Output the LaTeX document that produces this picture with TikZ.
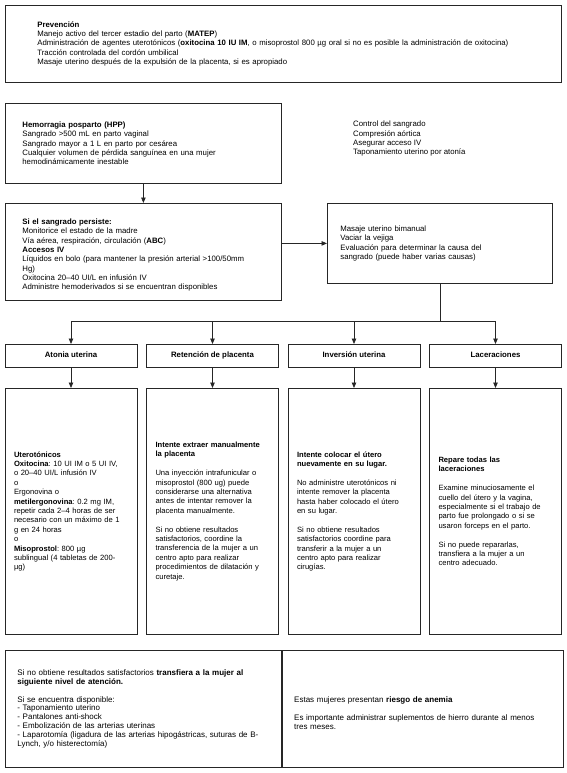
\documentclass[tikz,border=0pt]{standalone}
\usepackage{fontspec}
\setmainfont{Liberation Sans}
\usetikzlibrary{arrows.meta,positioning}
\newcommand{\boxfont}{\fontsize{7.8}{9.3}\selectfont\frenchspacing}
\newcommand{\detfont}{\fontsize{7.6}{9.4}\selectfont\frenchspacing}
\newcommand{\botfont}{\fontsize{8}{8.9}\selectfont\frenchspacing}

\begin{document}
\begin{tikzpicture}[x=1pt,y=-1pt,
  box/.style={draw=black!85,line width=0.8pt,anchor=north west,align=left,inner ysep=0pt,font=\boxfont},
  cat/.style={draw=black!85,line width=0.8pt,minimum width=132pt,minimum height=23pt,inner sep=0pt,outer sep=0pt,
    text height=5.8pt,text depth=1.7pt,font=\boxfont\bfseries},
  det/.style={box,minimum width=132pt,minimum height=246pt,inner xsep=9pt,text width=114pt,font=\detfont},
  arr/.style={-{Triangle[length=5.5pt,width=4.5pt]},line width=0.8pt,black!85},
  conn/.style={line width=0.8pt,black!85}]
\useasboundingbox (0,0) rectangle (567,773);
\node[box,minimum width=556pt,minimum height=77pt,inner xsep=32pt,text width=492pt] (prev) at (5,5)
  {\textbf{Prevención}\\
   Manejo activo del tercer estadio del parto (\textbf{MATEP})\\
   Administración de agentes uterotónicos (\textbf{oxitocina 10 IU IM}, o misoprostol 800 µg oral si no es posible la administración de oxitocina)\\
   Tracción controlada del cordón umbilical\\
   Masaje uterino después de la expulsión de la placenta, si es apropiado};
\node[box,minimum width=276pt,minimum height=80pt,inner xsep=17pt,text width=242pt] (hpp) at (5,103)
  {\textbf{Hemorragia posparto (HPP)}\\
   Sangrado >500 mL en parto vaginal\\
   Sangrado mayor a 1 L en parto por cesárea\\
   Cualquier volumen de pérdida sanguínea en una mujer\\
   hemodinámicamente inestable};
\node[anchor=north west,align=left,inner sep=0pt,font=\boxfont] (control) at (353,121)
  {Control del sangrado\\
   Compresión aórtica\\
   Asegurar acceso IV\\
   Taponamiento uterino por atonía};
\node[box,minimum width=276pt,minimum height=97pt,inner xsep=17pt,text width=242pt] (persiste) at (5,203)
  {\rule{0pt}{12pt}\textbf{Si el sangrado persiste:}\\
   Monitorice el estado de la madre\\
   Vía aérea, respiración, circulación (\textbf{ABC})\\
   \textbf{Accesos IV}\\
   Líquidos en bolo (para mantener la presión arterial >100/50mm\\
   Hg)\\
   Oxitocina 20–40 UI/L en infusión IV\\
   Administre hemoderivados si se encuentran disponibles};
\node[box,minimum width=225pt,minimum height=80pt,inner xsep=13pt,text width=199pt] (causa) at (327,203)
  {Masaje uterino bimanual\\
   Vaciar la vejiga\\
   Evaluación para determinar la causa del\\
   sangrado (puede haber varias causas)};
\draw[arr] (hpp) -- (persiste);
\draw[arr] (persiste.east |- causa) -- (causa);
\node[cat,anchor=north west] (atonia) at (5,344) {Atonia uterina};
\node[cat,right=9.5pt of atonia] (reten) {Retención de placenta};
\node[cat,right=9.5pt of reten] (inver) {Inversión uterina};
\node[cat,right=9.5pt of inver] (lacer) {Laceraciones};
\coordinate (split) at ([yshift=-37.5pt]causa.south);
\draw[conn] (causa) -- (split);
\draw[conn] (split -| atonia) -- (split -| lacer);
\foreach \n in {atonia,reten,inver,lacer}
  \draw[arr] (split -| \n) -- (\n);
\node[det,below=21pt of atonia] (atonia-d)
  {\textbf{Uterotónicos}\\
   \textbf{Oxitocina}: 10 UI IM o 5 UI IV,\\
   o 20–40 UI/L infusión IV\\
   o\\
   Ergonovina o\\
   \textbf{metilergonovina}: 0.2 mg IM,\\
   repetir cada 2–4 horas de ser\\
   necesario con un máximo de 1\\
   g en 24 horas\\
   o\\
   \textbf{Misoprostol}: 800 µg\\
   sublingual (4 tabletas de 200-\\
   µg)};
\node[det,below=21pt of reten] (reten-d)
  {\textbf{Intente extraer manualmente}\\
   \textbf{la placenta}\\[9.4pt]
   Una inyección intrafunicular o\\
   misoprostol (800 ug) puede\\
   considerarse una alternativa\\
   antes de intentar remover la\\
   placenta manualmente.\\[9.4pt]
   Si no obtiene resultados\\
   satisfactorios, coordine la\\
   transferencia de la mujer a un\\
   centro apto para realizar\\
   procedimientos de dilatación y\\
   curetaje.};
\node[det,below=21pt of inver] (inver-d)
  {\textbf{Intente colocar el útero}\\
   \textbf{nuevamente en su lugar.}\\[9.4pt]
   No administre uterotónicos ni\\
   intente remover la placenta\\
   hasta haber colocado el útero\\
   en su lugar.\\[9.4pt]
   Si no obtiene resultados\\
   satisfactorios coordine para\\
   transferir a la mujer a un\\
   centro apto para realizar\\
   cirugías.};
\node[det,below=21pt of lacer] (lacer-d)
  {\textbf{Repare todas las}\\
   \textbf{laceraciones}\\[9.4pt]
   Examine minuciosamente el\\
   cuello del útero y la vagina,\\
   especialmente si el trabajo de\\
   parto fue prolongado o si se\\
   usaron forceps en el parto.\\[9.4pt]
   Si no puede repararlas,\\
   transfiera a la mujer a un\\
   centro adecuado.};
\foreach \n in {atonia,reten,inver,lacer}
  \draw[arr] (\n) -- (\n-d);
\node[box,minimum width=276pt,minimum height=117pt,inner xsep=12pt,text width=252pt,font=\botfont] (transf) at (5,650)
  {Si no obtiene resultados satisfactorios \textbf{transfiera a la mujer al}\\
   \textbf{siguiente nivel de atención.}\\[8.9pt]
   Si se encuentra disponible:\\
   - Taponamiento uterino\\
   - Pantalones anti-shock\\
   - Embolización de las arterias uterinas\\
   - Laparotomía (ligadura de las arterias hipogástricas, suturas de B-\\
   Lynch, y/o histerectomía)};
\node[box,minimum width=281pt,minimum height=117pt,inner xsep=12pt,text width=257pt,font=\botfont] (anemia) at (transf.north east)
  {\rule{0pt}{14pt}Estas mujeres presentan \textbf{riesgo de anemia}\\[8.9pt]
   Es importante administrar suplementos de hierro durante al menos\\
   tres meses.};
\end{tikzpicture}
\end{document}
